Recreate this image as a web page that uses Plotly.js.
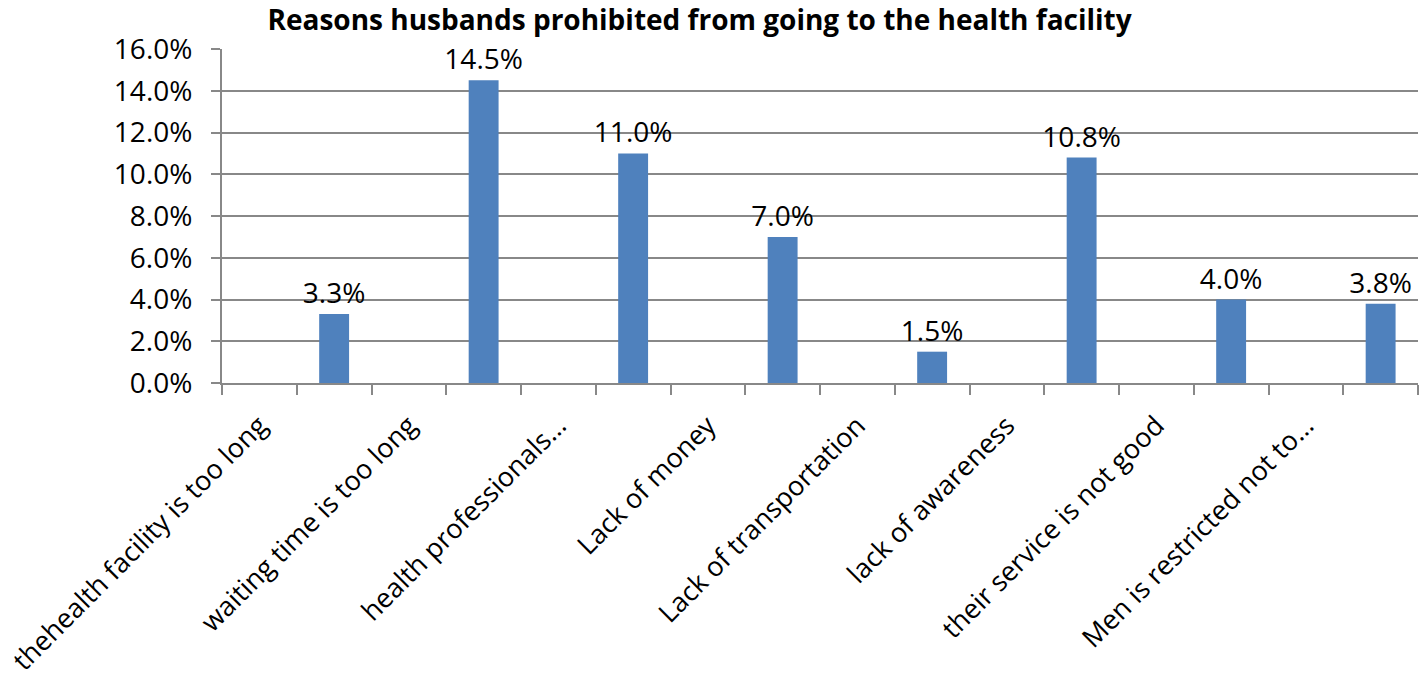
<!DOCTYPE html>
<html>
<head>
<meta charset="utf-8">
<script src="https://cdn.plot.ly/plotly-3.0.1.min.js"></script>
<style>
html,body{margin:0;padding:0;background:#fff;}
#chart{width:1419px;height:679px;}
</style>
</head>
<body>
<div id="chart"></div>
<script>
// Category labels shown on the axis (every other slot, as in the original)
const categories = [
  "thehealth facility is too long",
  "waiting time is too long",
  "health professionals…",
  "Lack of money",
  "Lack of transportation",
  "lack of awareness",
  "their service is not good",
  "Men is restricted not to…"
];
// Percent values of the bars (each bar sits in the slot after its label)
const values = [3.3, 14.5, 11.0, 7.0, 1.5, 10.8, 4.0, 3.8];
const yTickVals = [0, 2, 4, 6, 8, 10, 12, 14, 16];

const barX = categories.map((c, i) => 2 * i + 1);
const labelX = categories.map((c, i) => 2 * i);
const FONT = "Open Sans, sans-serif";

const trace = {
  type: "bar",
  x: barX,
  y: values,
  width: 0.4,
  marker: {color: "#4F81BD"},
  text: values.map(v => v.toFixed(1) + "%"),
  textposition: "outside",
  constraintext: "none",
  textfont: {family: FONT, size: 28, color: "#000"},
  cliponaxis: false,
  hoverinfo: "skip"
};

const layout = {
  width: 1419,
  height: 679,
  margin: {l: 222, r: 1, t: 49, b: 296},
  paper_bgcolor: "#fff",
  plot_bgcolor: "#fff",
  showlegend: false,
  title: {
    text: "<b>Reasons husbands prohibited from going to the health facility</b>",
    font: {family: FONT, size: 28, color: "#000"},
    x: 0.493, xanchor: "center",
    y: 0.9705, yanchor: "middle"
  },
  xaxis: {
    type: "linear",
    range: [-0.5, 2 * categories.length - 0.5],
    tickmode: "array",
    tickvals: labelX,
    ticktext: categories,
    tickangle: -45,
    ticks: "",
    ticklen: 0,
    ticklabelstandoff: 14,
    tickfont: {family: FONT, size: 27, color: "#000"},
    showgrid: false,
    zeroline: false,
    showline: true,
    linecolor: "#888",
    linewidth: 2,
    minor: {
      tickmode: "linear",
      tick0: -0.5,
      dtick: 1,
      ticks: "outside",
      ticklen: 10,
      tickwidth: 2,
      tickcolor: "#888",
      showgrid: false
    },
    fixedrange: true
  },
  yaxis: {
    range: [0, 16],
    tickmode: "array",
    tickvals: yTickVals,
    ticktext: yTickVals.map(v => v.toFixed(1) + "%"),
    ticks: "outside",
    ticklen: 9,
    tickwidth: 2,
    tickcolor: "#888",
    ticklabelstandoff: 13,
    tickfont: {family: FONT, size: 28, color: "#000"},
    showgrid: true,
    gridcolor: "#888",
    gridwidth: 2,
    zeroline: false,
    showline: true,
    linecolor: "#888",
    linewidth: 2,
    fixedrange: true
  }
};

Plotly.newPlot("chart", [trace], layout, {displayModeBar: false, staticPlot: true});
</script>
</body>
</html>
